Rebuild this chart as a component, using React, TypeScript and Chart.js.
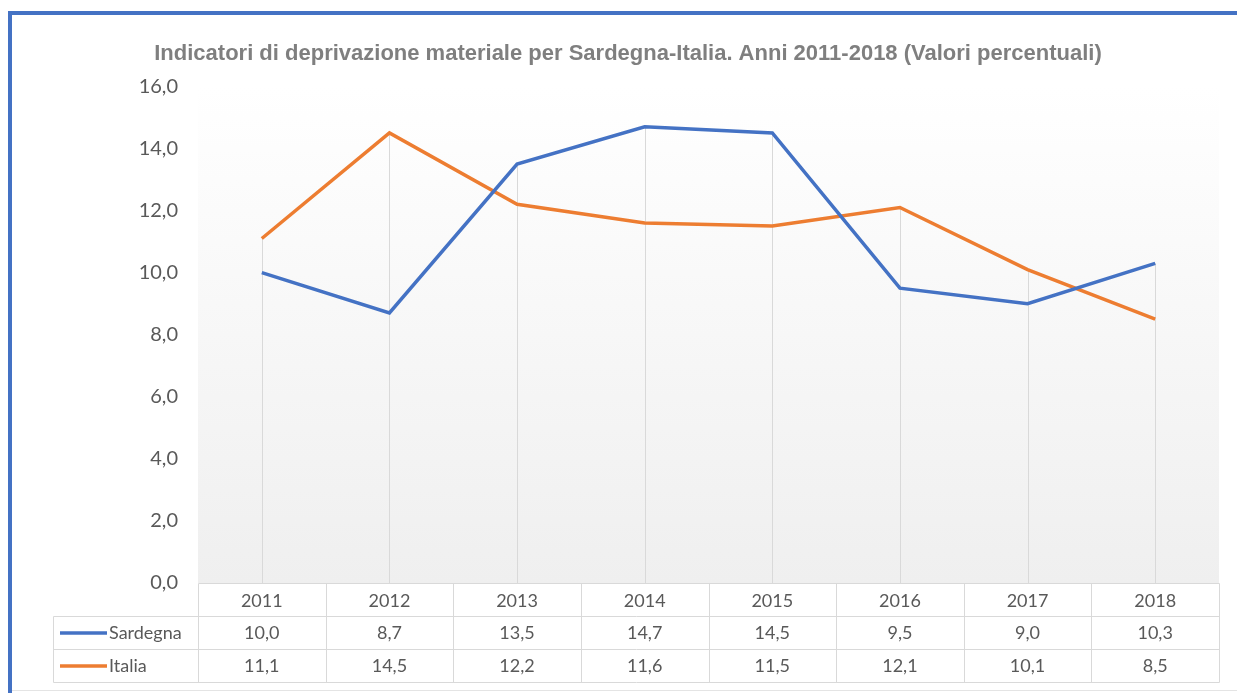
import React, { useEffect, useRef } from "react";
import { Chart, registerables } from "chart.js";

Chart.register(...registerables);

const TITLE = "Indicatori di deprivazione materiale per Sardegna-Italia. Anni 2011-2018 (Valori percentuali)";
const YEARS = ["2011", "2012", "2013", "2014", "2015", "2016", "2017", "2018"];
const SARDEGNA = [10.0, 8.7, 13.5, 14.7, 14.5, 9.5, 9.0, 10.3];
const ITALIA = [11.1, 14.5, 12.2, 11.6, 11.5, 12.1, 10.1, 8.5];
const SERIES_NAMES = ["Sardegna", "Italia"];
const Y_MIN = 0;
const Y_MAX = 16;
const Y_STEP = 2;

const BLUE = "#4472C4";
const ORANGE = "#ED7D31";
const TEXT = "#595959";
const GRID = "#d9d9d9";
const FONT = "Lato";

const fmt = (v: number) => v.toFixed(1).replace(".", ",");

const bgPlugin = {
  id: "plotBg",
  beforeDraw(chart: any) {
    const { ctx, chartArea } = chart;
    if (!chartArea) return;
    const g = ctx.createLinearGradient(0, chartArea.top, 0, chartArea.bottom);
    g.addColorStop(0, "#ffffff");
    g.addColorStop(1, "#efefef");
    ctx.save();
    ctx.fillStyle = g;
    ctx.fillRect(chartArea.left, chartArea.top, chartArea.right - chartArea.left, chartArea.bottom - chartArea.top);
    ctx.restore();
  },
};

const dropLinesPlugin = {
  id: "dropLines",
  beforeDatasetsDraw(chart: any) {
    const { ctx } = chart;
    const xs = chart.scales.x;
    const ys = chart.scales.y;
    const ds = chart.data.datasets;
    ctx.save();
    ctx.strokeStyle = GRID;
    ctx.lineWidth = 1;
    for (let i = 0; i < chart.data.labels.length; i++) {
      let mx = -Infinity;
      ds.forEach((d: any) => { mx = Math.max(mx, d.data[i]); });
      const x = Math.round(xs.getPixelForValue(i)) + 0.5;
      ctx.beginPath();
      ctx.moveTo(x, ys.getPixelForValue(mx));
      ctx.lineTo(x, ys.getPixelForValue(Y_MIN));
      ctx.stroke();
    }
    ctx.restore();
  },
};

const tablePlugin = {
  id: "dataTable",
  afterDraw(chart: any) {
    const { ctx } = chart;
    const xs = chart.scales.x;
    const ys = chart.scales.y;
    const n = chart.data.labels.length;
    const half = (xs.getPixelForValue(1) - xs.getPixelForValue(0)) / 2;
    const edges: number[] = [];
    for (let i = 0; i <= n; i++) {
      const c = i < n ? xs.getPixelForValue(i) - half : xs.getPixelForValue(n - 1) + half;
      edges.push(Math.round(c) + 0.5);
    }
    const top = Math.round(ys.getPixelForValue(Y_MIN)) + 0.5;
    const rowH = 33;
    const tableLeft = 53.5;
    ctx.save();
    ctx.strokeStyle = GRID;
    ctx.lineWidth = 1;
    ctx.beginPath();
    ctx.moveTo(edges[0], top);
    ctx.lineTo(edges[n], top);
    for (let r = 1; r <= 3; r++) {
      ctx.moveTo(tableLeft, top + r * rowH);
      ctx.lineTo(edges[n], top + r * rowH);
    }
    edges.forEach((x) => {
      ctx.moveTo(x, top);
      ctx.lineTo(x, top + 3 * rowH);
    });
    ctx.moveTo(tableLeft, top + rowH);
    ctx.lineTo(tableLeft, top + 3 * rowH);
    ctx.stroke();

    ctx.fillStyle = TEXT;
    ctx.font = `18px ${FONT}`;
    ctx.textAlign = "center";
    ctx.textBaseline = "middle";
    for (let i = 0; i < n; i++) {
      const cx = xs.getPixelForValue(i);
      ctx.fillText(chart.data.labels[i], cx, top + rowH / 2 + 1);
      chart.data.datasets.forEach((d: any, k: number) => {
        ctx.fillText(fmt(d.data[i]), cx, top + rowH * (k + 1) + rowH / 2);
      });
    }
    chart.data.datasets.forEach((d: any, k: number) => {
      const cy = top + rowH * (k + 1) + rowH / 2;
      ctx.strokeStyle = d.borderColor;
      ctx.lineWidth = 3.5;
      ctx.beginPath();
      ctx.moveTo(60, cy);
      ctx.lineTo(107, cy);
      ctx.stroke();
      ctx.textAlign = "left";
      ctx.fillStyle = TEXT;
      ctx.fillText(d.label, 109, cy);
    });
    ctx.restore();
  },
};

export default function App() {
  const ref = useRef<HTMLCanvasElement | null>(null);
  useEffect(() => {
    document.body.style.margin = "0";
    const chart = new Chart(ref.current!, {
      type: "line",
      data: {
        labels: YEARS,
        datasets: [
          { label: SERIES_NAMES[0], data: SARDEGNA, borderColor: BLUE, backgroundColor: BLUE, borderWidth: 3.5, pointRadius: 0, tension: 0 },
          { label: SERIES_NAMES[1], data: ITALIA, borderColor: ORANGE, backgroundColor: ORANGE, borderWidth: 3.5, pointRadius: 0, tension: 0 },
        ],
      },
      options: {
        responsive: false,
        animation: false,
        layout: { padding: { left: 37, right: 18, top: 16, bottom: 110 } },
        plugins: {
          legend: { display: false },
          tooltip: { enabled: false },
          title: {
            display: true,
            text: TITLE,
            color: "#7f7f7f",
            font: { family: "'Liberation Sans', Arial, sans-serif", size: 22, weight: "bold" },
            padding: { top: 25, bottom: 19 },
          },
        },
        scales: {
          x: { display: false, offset: true },
          y: {
            min: Y_MIN,
            max: Y_MAX,
            grid: { display: false },
            border: { display: false },
            ticks: {
              stepSize: Y_STEP,
              padding: 12,
              color: TEXT,
              font: { family: FONT, size: 20 },
              callback: (v: any) => fmt(Number(v)),
            },
            afterFit: (s: any) => { s.width = 161; },
          },
        },
      },
      plugins: [bgPlugin, dropLinesPlugin, tablePlugin],
    });
    return () => chart.destroy();
  }, []);
  return (
    <div style={{ position: "relative", width: 1237, height: 693, background: "#fff", overflow: "hidden" }}>
      <canvas ref={ref} width={1237} height={693} style={{ position: "absolute", left: 0, top: 0 }} />
      <div style={{ position: "absolute", left: 8, top: 11, width: 1229, height: 4, background: BLUE }} />
      <div style={{ position: "absolute", left: 8, top: 11, width: 4, height: 682, background: BLUE }} />
      <div style={{ position: "absolute", left: 12, top: 690, width: 1225, height: 1, background: "#e4e4e4" }} />
    </div>
  );
}
